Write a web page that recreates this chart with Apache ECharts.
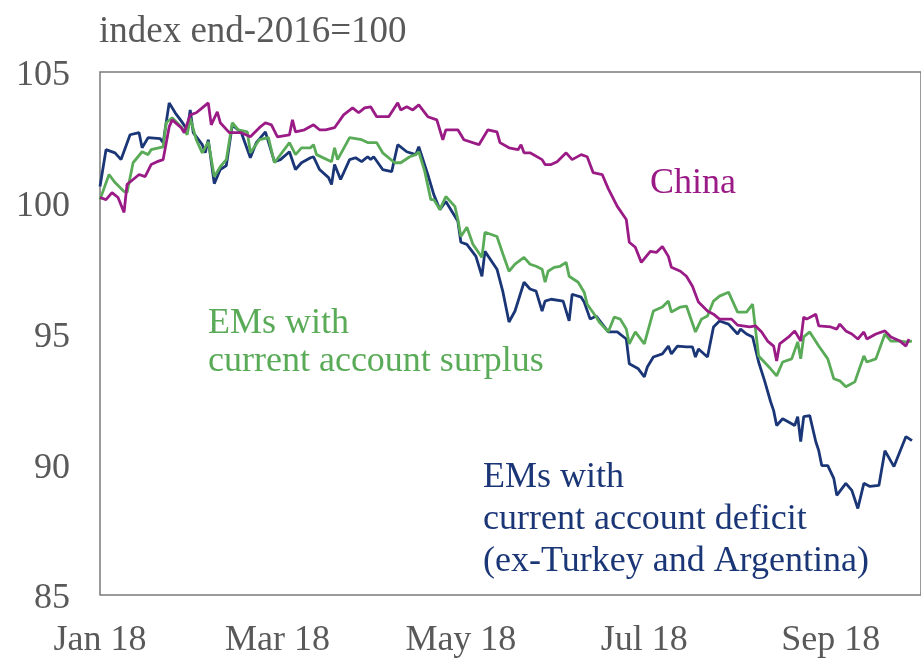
<!DOCTYPE html>
<html>
<head>
<meta charset="utf-8">
<script src="https://cdn.jsdelivr.net/npm/echarts@6/dist/echarts.min.js"></script>
<style>
html,body{margin:0;padding:0;background:#fff;}
#chart{width:921px;height:659px;}
</style>
</head>
<body>
<div id="chart"></div>
<script>
// Days are counted from 1 Jan 2018.
var deficitDays = [0,2,5,7,10,13,14,16,20,21,23,25,27,29,30,31,34,35,36,38,40,42,44,47,50,52,55,58,60,63,65,67,70,71,73,76,77,78,80,83,85,87,89,90,91,94,97,99,102,105,106,109,111,113,115,118,119,120,122,125,127,128,132,134,136,138,141,143,145,147,148,150,154,156,157,160,161,163,165,169,172,175,176,179,181,182,184,187,189,190,192,195,197,198,199,202,204,206,209,212,213,215,217,219,221,223,224,225,227,230,231,232,233,234,236,238,239,240,242,244,245,248,250,252,254,256,259,261,264,268,270];
var deficitValues = [100.62,102.03,101.91,101.65,102.60,102.68,102.10,102.49,102.45,102.30,103.82,103.44,103.13,102.79,103.55,102.68,102.22,101.91,102.41,100.73,101.27,101.42,102.98,102.68,101.72,102.30,102.71,101.57,101.65,101.95,101.27,101.53,101.72,101.76,101.27,100.96,100.70,101.46,100.89,101.65,101.72,101.57,101.76,101.65,101.76,101.27,101.19,102.22,101.95,101.84,102.14,101.08,100.31,99.74,100.05,99.48,99.29,98.49,98.41,97.95,97.19,98.14,97.46,96.58,95.44,95.86,96.96,96.70,96.62,95.86,96.24,96.31,96.24,95.48,96.50,96.39,96.20,95.55,95.67,95.06,95.06,94.79,93.84,93.65,93.34,93.72,94.10,94.22,94.52,94.22,94.52,94.49,94.49,94.10,94.41,94.10,95.25,95.48,95.36,94.98,95.17,94.98,94.87,93.91,93.19,92.39,92.05,91.48,91.74,91.55,91.48,91.82,90.87,91.82,91.86,90.87,90.52,89.95,89.95,89.46,88.81,89.27,89.00,88.31,89.27,89.15,89.19,90.52,89.91,91.06,90.90];

var surplusDays = [0,3,5,8,9,11,14,16,17,21,22,24,27,29,30,32,34,36,38,40,42,44,46,49,50,53,56,58,63,65,67,70,71,72,77,78,79,83,87,89,92,94,98,100,103,105,106,108,110,111,113,115,118,119,120,122,124,127,128,132,134,136,138,141,143,145,147,148,149,151,153,155,156,159,161,162,165,166,169,171,173,175,176,178,181,184,187,189,190,193,195,198,200,202,204,206,209,212,215,217,219,223,225,227,230,232,233,234,236,239,242,244,246,248,251,254,255,258,261,263,266,268,270];
var surplusValues = [100.12,101.08,100.77,100.43,100.39,101.53,101.95,101.84,102.03,102.14,103.06,103.25,102.90,102.60,103.25,102.41,101.91,102.33,101.00,101.38,101.65,103.06,102.79,102.71,101.91,102.41,102.49,101.53,102.30,101.84,102.10,102.10,102.22,101.84,101.57,102.10,101.65,102.49,102.41,102.30,102.30,101.91,101.53,101.53,101.76,101.84,101.95,101.19,100.12,100.12,99.74,100.24,99.86,99.36,98.71,99.06,98.41,97.91,98.87,98.71,98.03,97.38,97.65,97.91,97.65,97.57,97.46,96.96,97.38,97.53,97.57,97.72,97.19,96.96,96.58,96.12,95.63,95.44,95.06,95.63,95.55,95.17,94.60,95.06,94.60,95.86,96.01,96.24,95.82,96.01,96.05,95.06,95.55,95.67,96.24,96.43,96.58,95.82,95.82,96.12,94.14,93.65,93.38,93.91,94.03,94.68,94.03,94.87,95.06,94.52,94.03,93.27,93.19,92.96,93.15,94.14,93.91,94.03,94.98,94.71,94.71,94.68,94.71];

var chinaDays = [0,2,4,6,8,9,11,13,15,17,19,21,23,24,27,28,30,32,34,36,37,39,40,43,47,50,53,55,57,59,63,64,65,68,71,73,75,78,81,84,86,88,90,92,96,99,100,102,104,106,109,112,114,115,119,121,126,129,132,133,136,139,140,141,143,147,148,150,152,155,157,160,162,164,167,169,172,175,176,178,180,183,185,187,189,190,193,195,197,199,202,204,206,210,212,216,218,220,222,224,225,226,229,231,233,234,235,238,239,243,245,246,248,250,252,254,255,258,261,263,266,268,269];
var chinaValues = [100.20,100.12,100.39,100.20,99.63,100.70,100.89,101.08,101.00,101.46,101.57,101.65,102.90,103.17,102.87,102.68,103.36,103.44,103.63,103.82,102.98,103.48,103.06,102.68,102.68,102.52,102.87,103.06,102.98,102.52,102.60,103.17,102.71,102.79,102.98,102.79,102.79,102.87,103.36,103.63,103.44,103.63,103.67,103.29,103.29,103.82,103.55,103.67,103.55,103.74,103.29,103.17,102.41,102.79,102.79,102.41,102.22,102.79,102.71,102.30,102.10,102.03,102.22,101.91,101.91,101.65,101.46,101.46,101.57,101.91,101.65,101.84,101.76,101.15,101.08,100.54,99.86,99.36,98.49,98.30,97.72,98.14,98.10,98.33,97.95,97.53,97.38,97.19,96.81,96.20,95.86,95.74,95.55,95.55,95.32,95.25,95.29,95.06,94.71,94.52,93.95,94.60,94.87,95.10,94.71,95.63,95.55,95.74,95.29,95.25,95.17,95.36,95.10,94.98,94.79,95.06,94.79,94.98,95.10,94.87,94.71,94.52,94.79];

// x-axis tick labels: day offset of first of month and label text
var xTickDays = [0, 59, 120, 181, 243];
var xTickLabels = ['Jan 18', 'Mar 18', 'May 18', 'Jul 18', 'Sep 18'];
var yTicks = {min: 85, max: 105, step: 5};

var unitLabel = 'index end-2016=100';
var chinaLabel = 'China';
var surplusLabel = ['EMs with', 'current account surplus'];
var deficitLabel = ['EMs with', 'current account deficit', '(ex-Turkey and Argentina)'];

function pairs(days, vals) { return days.map(function (d, i) { return [d, vals[i]]; }); }

var FONT = '"Liberation Serif", "DejaVu Serif", serif';
var GRAY = '#595959';
var NAVY = '#1A3677';
var GREEN = '#5AAB58';
var PURPLE = '#9B1B86';

var chart = echarts.init(document.getElementById('chart'), null, {renderer: 'canvas'});

function txt(text, x, y, color, size) {
  return {type: 'text', left: x, top: y, silent: true,
    style: {text: text, fill: color, font: (size || 36) + 'px ' + FONT}};
}

var graphics = [txt(unitLabel, 99, 14, GRAY, 37), txt(chinaLabel, 650, 166, PURPLE)];
surplusLabel.forEach(function (t, i) { graphics.push(txt(t, 208, 306 + i * 38, GREEN)); });
deficitLabel.forEach(function (t, i) { graphics.push(txt(t, 483, 460 + i * 42, NAVY)); });

chart.setOption({
  animation: false,
  backgroundColor: '#ffffff',
  grid: {left: 100, top: 72, width: 829, height: 525, show: true, borderColor: '#7a7a7a', borderWidth: 1.5, backgroundColor: 'transparent'},
  xAxis: {
    type: 'value',
    min: 0,
    max: 273,
    axisLine: {show: false},
    axisTick: {show: false},
    splitLine: {show: false},
    axisLabel: {
      customValues: xTickDays,
      formatter: function (v) { var i = xTickDays.indexOf(v); return i >= 0 ? xTickLabels[i] : ''; },
      color: GRAY, fontFamily: FONT, fontSize: 36, margin: 28, hideOverlap: false
    }
  },
  yAxis: {
    type: 'value',
    min: yTicks.min, max: yTicks.max, interval: yTicks.step,
    axisLine: {show: false},
    axisTick: {show: false},
    splitLine: {show: false},
    axisLabel: {color: GRAY, fontFamily: FONT, fontSize: 36, margin: 30, verticalAlign: 'top', lineHeight: 8}
  },
  series: [
    {name: 'deficit', type: 'line', data: pairs(deficitDays, deficitValues), showSymbol: false,
     lineStyle: {color: NAVY, width: 2.8}, itemStyle: {color: NAVY}, z: 2},
    {name: 'surplus', type: 'line', data: pairs(surplusDays, surplusValues), showSymbol: false,
     lineStyle: {color: GREEN, width: 2.8}, itemStyle: {color: GREEN}, z: 3},
    {name: 'China', type: 'line', data: pairs(chinaDays, chinaValues), showSymbol: false,
     lineStyle: {color: PURPLE, width: 2.8}, itemStyle: {color: PURPLE}, z: 4}
  ],
  graphic: graphics
});
</script>
</body>
</html>
